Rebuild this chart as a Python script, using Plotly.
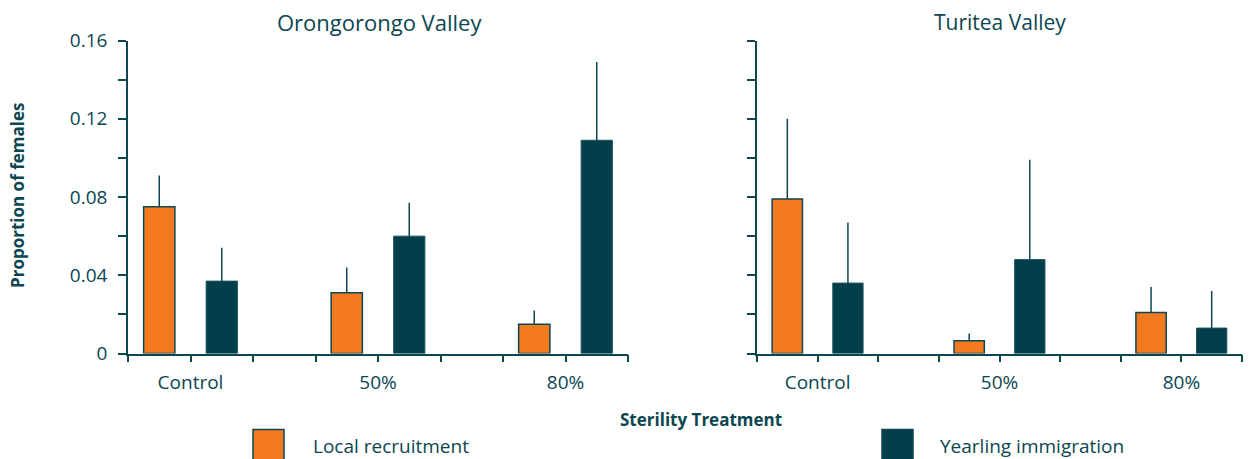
import plotly.graph_objects as go

# Sterility treatments (x categories)
treatments = ["Control", "50%", "80%"]
sites = ["Orongorongo Valley", "Turitea Valley"]
series_names = ["Local recruitment", "Yearling immigration"]

# Proportion of females, per site, per treatment
oron_local = [0.075, 0.031, 0.015]
oron_local_se = [0.016, 0.013, 0.007]
oron_yearling = [0.037, 0.060, 0.109]
oron_yearling_se = [0.017, 0.017, 0.040]

turi_local = [0.079, 0.0065, 0.021]
turi_local_se = [0.041, 0.0037, 0.013]
turi_yearling = [0.036, 0.048, 0.013]
turi_yearling_se = [0.031, 0.051, 0.019]

y_tick_values = [0, 0.02, 0.04, 0.06, 0.08, 0.10, 0.12, 0.14, 0.16]
y_tick_labels = ["0", "", "0.04", "", "0.08", "", "0.12", "", "0.16"]

ORANGE = "#F47A20"
TEAL = "#033F4A"
INK = "#0B4651"
FONT = "Open Sans"

W, H = 1257, 459

# slot layout: each treatment spans three slots; bars sit half a slot either side
centres = [3 * i + 1 for i in range(len(treatments))]
x_local = [c - 0.5 for c in centres]
x_year = [c + 0.5 for c in centres]

fig = go.Figure()

panels = [
    (oron_local, oron_local_se, oron_yearling, oron_yearling_se, "x", "y"),
    (turi_local, turi_local_se, turi_yearling, turi_yearling_se, "x2", "y2"),
]
for loc, loc_se, yr, yr_se, xa, ya in panels:
    fig.add_trace(go.Bar(
        x=x_local, y=loc, width=0.5, xaxis=xa, yaxis=ya,
        name=series_names[0], showlegend=False,
        marker=dict(color=ORANGE, line=dict(color=INK, width=1.5)),
        error_y=dict(type="data", array=loc_se, arrayminus=[0] * len(loc),
                     symmetric=False, width=0, thickness=1.5, color=INK),
    ))
    fig.add_trace(go.Bar(
        x=x_year, y=yr, width=0.5, xaxis=xa, yaxis=ya,
        name=series_names[1], showlegend=False,
        marker=dict(color=TEAL, line=dict(color="#1F5560", width=1)),
        error_y=dict(type="data", array=yr_se, arrayminus=[0] * len(yr),
                     symmetric=False, width=0, thickness=1.5, color=INK),
    ))


def px_x(p):
    return p / W


def px_y(p):
    return 1 - p / H


x_common = dict(
    range=[0, 8], tickmode="array", tickvals=list(range(9)),
    ticktext=[treatments[centres.index(v)] if v in centres else "" for v in range(9)],
    ticks="outside", ticklen=7, tickwidth=1.5, tickcolor=INK,
    showline=True, linecolor=INK, linewidth=1.5, showgrid=False, zeroline=False,
    tickfont=dict(family=FONT, size=19, color=INK), fixedrange=True,
    automargin=False, ticklabelstandoff=4,
)
y_common = dict(
    range=[0, 0.16], tickmode="array", tickvals=y_tick_values,
    ticks="outside", ticklen=8, tickwidth=1.5, tickcolor=INK,
    showline=True, linecolor=INK, linewidth=1.5, showgrid=False, zeroline=False,
    tickfont=dict(family=FONT, size=19, color=INK), fixedrange=True,
    automargin=False, ticklabelstandoff=7,
)

y_dom = [px_y(353.5), px_y(40.5)]
fig.update_layout(
    template="none",
    width=W, height=H,
    margin=dict(l=0, r=0, t=0, b=0, pad=0),
    paper_bgcolor="white", plot_bgcolor="white",
    barmode="overlay", showlegend=False,
    font=dict(family=FONT, color=INK),
    xaxis=dict(domain=[px_x(128), px_x(628)], anchor="y", **x_common),
    yaxis=dict(domain=y_dom, anchor="x", ticktext=y_tick_labels, **y_common),
    xaxis2=dict(domain=[px_x(757), px_x(1242)], anchor="y2", **x_common),
    yaxis2=dict(domain=y_dom, anchor="x2", ticktext=[""] * len(y_tick_values), **y_common),
)

# panel titles
for name, cx, size in zip(sites, [379, 1000], [22, 21]):
    fig.add_annotation(text=name, x=px_x(cx), y=px_y(22), xref="paper", yref="paper",
                       showarrow=False, xanchor="center", yanchor="middle",
                       font=dict(family=FONT, size=size, color=INK))

# axis titles
fig.add_annotation(text="<b>Proportion of females</b>", x=px_x(18), y=px_y(196),
                   xref="paper", yref="paper", showarrow=False, textangle=-90,
                   xanchor="center", yanchor="middle",
                   font=dict(family=FONT, size=17, color=INK))
fig.add_annotation(text="<b>Sterility Treatment</b>", x=px_x(701), y=px_y(419),
                   xref="paper", yref="paper", showarrow=False,
                   xanchor="center", yanchor="middle",
                   font=dict(family=FONT, size=17, color=INK))

# legend keys
legend_items = [(series_names[0], ORANGE, 253, 311), (series_names[1], TEAL, 882, 938)]
for label, colour, sx, tx in legend_items:
    fig.add_shape(type="rect", xref="paper", yref="paper",
                  x0=px_x(sx), x1=px_x(sx + 31), y0=px_y(462), y1=px_y(429.5),
                  fillcolor=colour, line=dict(color=INK, width=1.5))
    fig.add_annotation(text=label, x=px_x(tx), y=px_y(446), xref="paper", yref="paper",
                       showarrow=False, xanchor="left", yanchor="middle",
                       font=dict(family=FONT, size=19, color=INK))

fig.write_html("out.html")
